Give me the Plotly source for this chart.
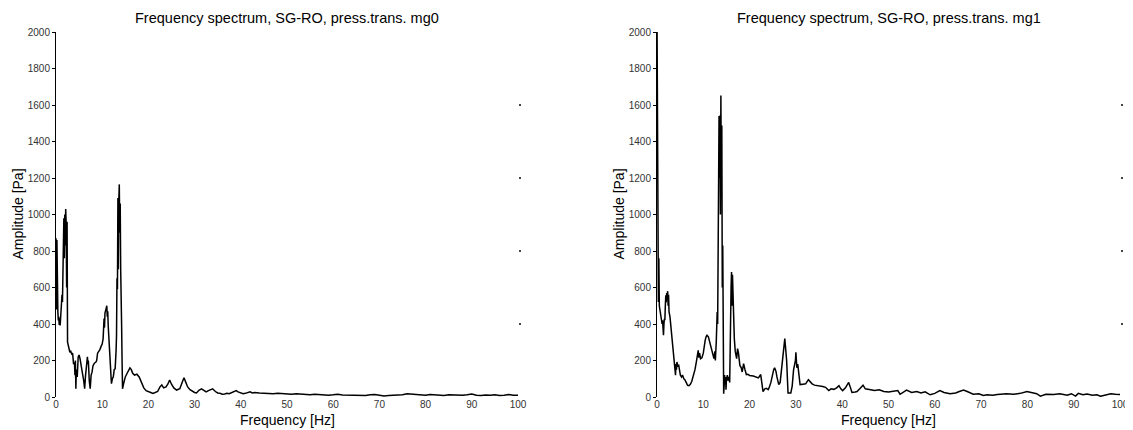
import plotly.graph_objects as go

# ---- data ----
freq_mg0 = [0.0,0.1,0.2,0.3,0.4,0.5,0.6,0.7,0.8,0.9,1.0,1.1,1.2,1.3,1.4,1.5,1.6,1.7,1.8,1.9,2.0,2.1,2.2,2.3,2.4,2.5,2.6,2.7,2.8,3.0,3.2,3.4,3.6,3.8,4.0,4.1,4.2,4.3,4.4,4.6,4.8,5.0,5.2,5.4,5.6,5.8,6.0,6.2,6.4,6.6,6.8,6.9,7.0,7.2,7.4,7.6,7.8,8.0,8.3,8.6,8.8,9.0,9.3,9.5,9.8,10.0,10.2,10.4,10.5,10.6,10.8,11.0,11.1,11.2,11.3,11.5,11.7,11.9,12.0,12.2,12.4,12.6,12.8,13.0,13.1,13.2,13.3,13.4,13.5,13.6,13.7,13.8,13.9,14.0,14.1,14.2,14.3,14.4,14.6,14.8,15.0,15.4,15.8,16.0,16.3,16.6,17.0,17.5,18.0,18.5,19.0,19.5,20.0,20.5,21.0,21.5,22.0,22.5,22.9,23.3,23.8,24.2,24.6,25.0,25.5,26.1,26.8,27.3,27.7,28.1,28.5,29.0,29.5,30.0,30.4,31.0,31.5,32.0,32.5,33.0,33.9,34.5,35.0,35.5,36.0,36.5,37.0,37.5,38.0,38.5,39.0,39.4,40.0,40.5,41.0,41.5,42.0,42.5,43.0,44.0,45.0,46.0,47.0,48.0,49.0,50.0,51.0,52.0,53.0,54.0,55.0,56.0,57.0,58.0,59.0,60.0,61.0,62.0,63.0,64.0,65.0,66.0,67.0,68.0,69.0,70.0,71.0,72.0,73.0,74.0,75.0,76.0,77.0,78.0,79.0,80.0,81.0,82.0,83.0,84.0,85.0,86.0,87.0,88.0,89.0,90.0,91.0,92.0,93.0,94.0,95.0,96.0,97.0,98.0,99.0,100.0]
amp_mg0 = [870,480,860,500,470,420,440,395,430,392,440,450,500,560,520,740,700,980,760,1000,830,1030,950,600,960,300,290,282,260,245,250,236,240,180,190,120,200,45,150,110,220,230,210,170,150,118,90,45,120,160,220,180,200,90,45,120,136,170,185,190,200,240,250,260,280,290,320,430,380,460,480,500,440,470,390,300,240,110,73,100,110,150,155,250,336,650,590,1090,700,1080,1165,900,1060,700,600,400,200,45,70,100,110,130,155,160,150,130,120,125,110,80,50,35,32,25,20,25,30,55,66,50,55,70,93,70,50,38,45,80,105,80,55,40,30,25,22,38,45,35,28,35,45,30,22,20,15,16,20,18,25,30,35,28,20,18,20,25,28,22,24,22,20,22,18,20,17,18,15,18,15,14,12,15,13,14,10,12,15,11,10,13,12,10,8,12,14,10,6,8,10,9,12,18,16,12,10,9,14,12,10,8,12,10,7,9,12,16,10,8,11,9,12,8,10,13,9,10]

freq_mg1 = [0.0,0.1,0.2,0.3,0.4,0.5,0.6,0.7,0.8,0.9,1.0,1.1,1.2,1.3,1.4,1.5,1.6,1.7,1.8,1.9,2.0,2.1,2.2,2.3,2.4,2.5,2.6,2.8,2.9,3.0,3.2,3.4,3.6,3.8,4.0,4.1,4.2,4.3,4.5,4.7,4.9,5.05,5.3,5.5,5.8,6.0,6.3,6.6,6.9,7.2,7.5,7.9,8.2,8.5,8.7,8.9,9.05,9.2,9.4,9.7,10.0,10.1,10.4,10.6,10.8,11.1,11.4,11.7,11.9,12.1,12.3,12.5,12.6,12.8,13.0,13.1,13.2,13.3,13.4,13.5,13.6,13.7,13.8,13.9,14.0,14.1,14.2,14.3,14.4,14.5,14.6,14.7,14.8,14.9,15.0,15.2,15.3,15.5,15.7,15.8,15.9,16.0,16.1,16.2,16.3,16.4,16.6,16.7,16.9,17.0,17.2,17.4,17.6,17.9,18.2,18.4,18.7,19.0,19.3,19.6,20.0,20.8,21.5,21.9,22.4,22.7,22.9,23.3,23.6,24.0,24.2,24.6,24.9,25.2,25.4,25.7,25.9,26.3,26.6,26.9,27.2,27.4,27.6,27.8,28.0,28.2,28.3,28.9,29.2,29.5,29.7,29.9,30.0,30.2,30.4,30.7,30.9,31.5,32.1,32.7,33.1,33.5,34.0,35.0,35.8,36.4,37.1,37.6,38.2,38.8,39.3,39.7,40.1,40.7,41.4,41.8,42.1,42.8,43.2,43.8,44.5,45.0,46.0,47.0,48.0,49.0,50.0,51.0,52.0,52.5,53.2,53.9,55.0,56.1,57.0,57.9,59.0,60.0,61.1,62.0,63.3,64.5,65.3,66.2,67.0,68.3,69.5,70.5,71.3,72.5,73.5,74.2,75.5,77.0,78.5,79.9,81.0,82.0,82.8,84.0,85.7,87.0,88.6,89.5,90.4,91.0,92.0,92.9,94.0,95.0,95.8,97.0,98.0,99.0,100.0]
amp_mg1 = [2100,1620,960,520,760,500,484,470,450,440,429,400,420,340,338,400,429,420,500,557,520,570,540,580,500,560,466,440,410,380,320,260,210,150,119,180,150,192,170,173,140,119,110,120,100,95,80,64,62,70,85,119,150,192,230,256,215,240,210,215,240,265,310,330,338,330,300,260,246,225,210,250,200,300,466,400,900,760,1540,1200,1543,1000,1652,1100,1488,600,830,420,18,60,120,70,110,40,100,120,90,110,80,374,300,600,685,500,670,557,400,320,250,230,210,265,240,173,160,137,183,150,123,125,118,115,110,105,123,80,30,45,48,40,50,80,123,150,160,140,110,68,80,150,200,260,320,260,200,80,22,22,60,150,180,200,245,160,180,90,68,70,72,95,80,72,65,62,58,53,35,45,42,50,62,45,35,50,80,50,25,28,30,45,65,45,40,35,40,30,28,30,35,15,25,38,25,30,22,28,12,20,35,25,18,22,30,38,30,15,18,8,12,10,14,15,18,15,20,30,22,18,5,15,14,18,10,18,5,20,12,16,10,12,4,12,18,15,14]

titles = ["Frequency spectrum, SG-RO, press.trans. mg0",
          "Frequency spectrum, SG-RO, press.trans. mg1"]
x_title = "Frequency [Hz]"
y_title = "Amplitude [Pa]"
x_ticks = [0, 10, 20, 30, 40, 50, 60, 70, 80, 90, 100]
y_ticks = [0, 200, 400, 600, 800, 1000, 1200, 1400, 1600, 1800, 2000]
right_marks = [400, 800, 1200, 1600]

# the page body adds an 8px offset; the figure is sized to fill the rest
OFF = 8
W, H = 1133 - OFF, 430 - OFF
FONT = "Liberation Sans, Arial, sans-serif"


def px_x(p):
    return (p - OFF) / W


def px_y(p):
    return 1 - (p - OFF) / H


fig = go.Figure()
fig.add_trace(go.Scatter(x=freq_mg0, y=amp_mg0, mode="lines",
                         line=dict(color="black", width=1.5),
                         xaxis="x", yaxis="y", showlegend=False, hoverinfo="x+y"))
fig.add_trace(go.Scatter(x=freq_mg1, y=amp_mg1, mode="lines",
                         line=dict(color="black", width=1.5),
                         xaxis="x2", yaxis="y2", showlegend=False, hoverinfo="x+y"))
# empty traces so the right-hand tick-mark axes are drawn
fig.add_trace(go.Scatter(x=[None], y=[None], xaxis="x", yaxis="y3", showlegend=False, hoverinfo="skip"))
fig.add_trace(go.Scatter(x=[None], y=[None], xaxis="x2", yaxis="y4", showlegend=False, hoverinfo="skip"))

xdom = [[px_x(56), px_x(518)], [px_x(657), px_x(1120)]]
ydom = [px_y(397), px_y(32)]

common_x = dict(range=[0, 100], tickvals=x_ticks, showgrid=False, zeroline=False,
                showline=False, ticks="", automargin=False,
                tickfont=dict(family=FONT, size=10, color="#333"))
common_y = dict(range=[0, 2000], tickvals=y_ticks, showgrid=False, zeroline=False,
                showline=True, linecolor="black", linewidth=1, automargin=False,
                ticks="outside", ticklen=3, tickcolor="black", tickwidth=1,
                tickfont=dict(family=FONT, size=10, color="#333"))
marks_y = dict(range=[0, 2000], tickvals=right_marks, showgrid=False, zeroline=False,
               showline=False, side="right", ticks="outside", ticklen=2, automargin=False,
               tickcolor="#444", tickwidth=1.5, showticklabels=False)

ann = []
for i, (x0, x1) in enumerate(xdom):
    xc = (x0 + x1) / 2
    ann.append(dict(text=titles[i], x=xc, y=px_y(18), xref="paper", yref="paper",
                    showarrow=False, xanchor="center", yanchor="middle",
                    font=dict(family=FONT, size=14.5, color="black")))
    ann.append(dict(text=x_title, x=xc, y=px_y(420), xref="paper", yref="paper",
                    showarrow=False, xanchor="center", yanchor="middle",
                    font=dict(family=FONT, size=14, color="black")))
ann.append(dict(text=y_title, x=px_x(17), y=(ydom[0] + ydom[1]) / 2, xref="paper", yref="paper",
                showarrow=False, xanchor="center", yanchor="middle", textangle=-90,
                font=dict(family=FONT, size=14, color="black")))
ann.append(dict(text=y_title, x=px_x(618), y=(ydom[0] + ydom[1]) / 2, xref="paper", yref="paper",
                showarrow=False, xanchor="center", yanchor="middle", textangle=-90,
                font=dict(family=FONT, size=14, color="black")))

fig.update_layout(
    width=W, height=H, margin=dict(l=0, r=0, t=0, b=0, autoexpand=False),
    paper_bgcolor="white", plot_bgcolor="white",
    xaxis=dict(domain=xdom[0], anchor="y", **common_x),
    yaxis=dict(domain=ydom, anchor="x", **common_y),
    xaxis2=dict(domain=xdom[1], anchor="y2", **common_x),
    yaxis2=dict(domain=ydom, anchor="x2", **common_y),
    yaxis3=dict(overlaying="y", anchor="x", **marks_y),
    yaxis4=dict(overlaying="y2", anchor="x2", **marks_y),
    annotations=ann,
)

fig.write_html("out.html")
